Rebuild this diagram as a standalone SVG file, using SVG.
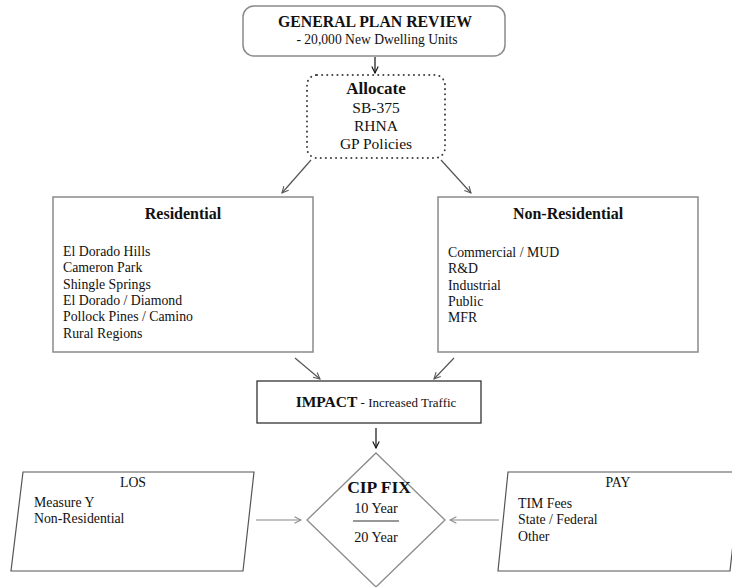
<svg xmlns="http://www.w3.org/2000/svg" width="732" height="587" viewBox="0 0 732 587">
<defs>
<style>
text{font-family:"Liberation Serif","Times New Roman",serif;fill:#111}
.b{font-weight:bold}
.box{fill:#fff;stroke:#8a8a8a;stroke-width:1.5}
.conn{fill:none;stroke-width:1.2}
.t{font-size:13.8px}
</style>
<marker id="ahk" viewBox="0 0 10 10" refX="9" refY="5" markerWidth="8" markerHeight="8" orient="auto" markerUnits="userSpaceOnUse">
<path d="M1,1 L9,5 L1,9" fill="none" stroke="#111" stroke-width="1.4"/>
</marker>
<marker id="ahg" viewBox="0 0 10 10" refX="9" refY="5" markerWidth="8" markerHeight="8" orient="auto" markerUnits="userSpaceOnUse">
<path d="M1,1 L9,5 L1,9" fill="none" stroke="#555" stroke-width="1.3"/>
</marker>
<marker id="ahl" viewBox="0 0 10 10" refX="9" refY="5" markerWidth="8" markerHeight="8" orient="auto" markerUnits="userSpaceOnUse">
<path d="M1,1 L9,5 L1,9" fill="none" stroke="#888" stroke-width="1.3"/>
</marker>
</defs>
<rect width="732" height="587" fill="#fff"/>
<g id="connectors">
<line class="conn" x1="375" y1="57" x2="375" y2="73" stroke="#111" marker-end="url(#ahk)"/>
<line class="conn" x1="311" y1="160" x2="282" y2="193" stroke="#555" marker-end="url(#ahg)"/>
<line class="conn" x1="441" y1="160" x2="471" y2="193" stroke="#555" marker-end="url(#ahg)"/>
<line class="conn" x1="295" y1="358" x2="320" y2="379" stroke="#555" marker-end="url(#ahg)"/>
<line class="conn" x1="454" y1="358" x2="434" y2="379" stroke="#555" marker-end="url(#ahg)"/>
<line class="conn" x1="376" y1="428" x2="376" y2="448" stroke="#111" marker-end="url(#ahk)"/>
<line class="conn" x1="256" y1="520" x2="301" y2="520" stroke="#888" marker-end="url(#ahl)"/>
<line class="conn" x1="499" y1="520" x2="450" y2="520" stroke="#888" marker-end="url(#ahl)"/>
</g>
<g id="general-plan-review">
<rect class="box" x="243" y="6" width="262" height="50" rx="11"/>
<text class="b" x="375" y="27" font-size="15.8" text-anchor="middle">GENERAL PLAN REVIEW</text>
<text x="377" y="44" font-size="13.6" text-anchor="middle">- 20,000 New Dwelling Units</text>
</g>
<g id="allocate">
<rect x="307" y="75" width="138" height="83" rx="10" fill="#fff" stroke="#444" stroke-width="2" stroke-linecap="round" stroke-dasharray="0.1 5"/>
<text class="b" x="376" y="94" font-size="17" text-anchor="middle">Allocate</text>
<text x="376" y="113" font-size="15.5" text-anchor="middle">SB-375</text>
<text x="376" y="131" font-size="15.5" text-anchor="middle">RHNA</text>
<text x="376" y="149" font-size="15.5" text-anchor="middle">GP Policies</text>
</g>
<g id="residential">
<rect class="box" x="53" y="197" width="260" height="155"/>
<text class="b" x="183" y="219" font-size="16" text-anchor="middle">Residential</text>
<text class="t" x="63" y="256">El Dorado Hills</text>
<text class="t" x="63" y="272">Cameron Park</text>
<text class="t" x="63" y="289">Shingle Springs</text>
<text class="t" x="63" y="305">El Dorado / Diamond</text>
<text class="t" x="63" y="321">Pollock Pines / Camino</text>
<text class="t" x="63" y="338">Rural Regions</text>
</g>
<g id="non-residential">
<rect class="box" x="438" y="197" width="260" height="155"/>
<text class="b" x="568" y="219" font-size="16" text-anchor="middle">Non-Residential</text>
<text class="t" x="448" y="257">Commercial / MUD</text>
<text class="t" x="448" y="273">R&amp;D</text>
<text class="t" x="448" y="290">Industrial</text>
<text class="t" x="448" y="306">Public</text>
<text class="t" x="448" y="322">MFR</text>
</g>
<g id="impact">
<rect x="257" y="381" width="224" height="42" fill="#fff" stroke="#333" stroke-width="1.3"/>
<text x="376" y="407" text-anchor="middle"><tspan class="b" font-size="15.5">IMPACT</tspan><tspan font-size="13"> - Increased Traffic</tspan></text>
</g>
<g id="cip-fix">
<polygon points="376,453 445,520 376,587 307,520" fill="#fff" stroke="#8a8a8a" stroke-width="1.3"/>
<text class="b" x="379" y="493" font-size="17.5" text-anchor="middle">CIP FIX</text>
<text x="376" y="513" font-size="14.3" text-anchor="middle">10 Year</text>
<line x1="353" y1="521" x2="399" y2="521" stroke="#333" stroke-width="1.2"/>
<text x="376" y="542" font-size="14.3" text-anchor="middle">20 Year</text>
</g>
<g id="los">
<polygon points="23,472 254,472 243,571 11,571" fill="#fff" stroke="#555" stroke-width="1.2"/>
<text class="t" x="133" y="487" text-anchor="middle">LOS</text>
<text class="t" x="34" y="507">Measure Y</text>
<text class="t" x="34" y="523">Non-Residential</text>
</g>
<g id="pay">
<polygon points="508,472 741,472 730,571 498,571" fill="#fff" stroke="#555" stroke-width="1.2"/>
<text class="t" x="618" y="487" text-anchor="middle">PAY</text>
<text class="t" x="518" y="508">TIM Fees</text>
<text class="t" x="518" y="524">State / Federal</text>
<text class="t" x="518" y="541">Other</text>
</g>
</svg>
